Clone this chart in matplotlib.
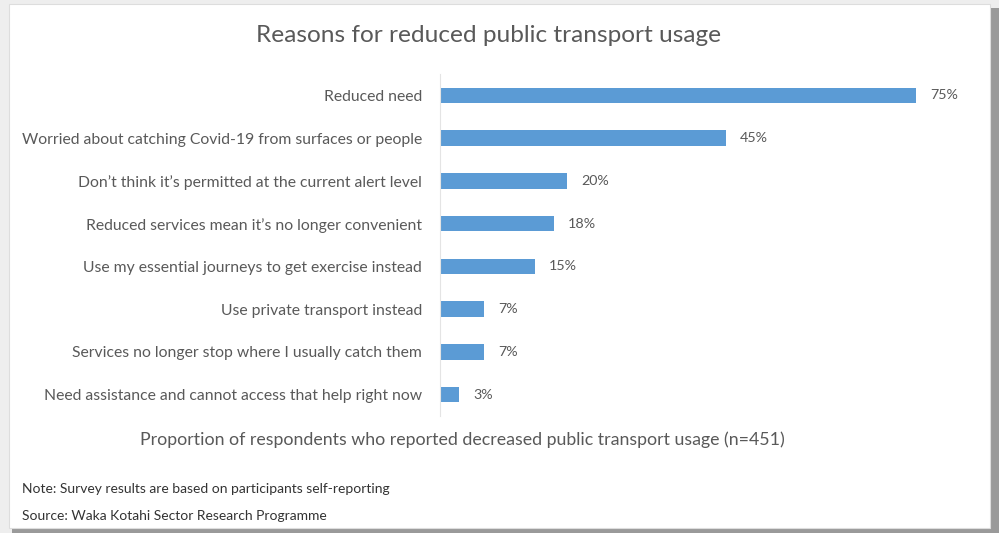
import matplotlib
matplotlib.use("Agg")
import matplotlib.pyplot as plt
import matplotlib.patches as mpatches

reasons = [
    "Reduced need",
    "Worried about catching Covid-19 from surfaces or people",
    "Don\u2019t think it\u2019s permitted at the current alert level",
    "Reduced services mean it\u2019s no longer convenient",
    "Use my essential journeys to get exercise instead",
    "Use private transport instead",
    "Services no longer stop where I usually catch them",
    "Need assistance and cannot access that help right now",
]
shares = [75, 45, 20, 18, 15, 7, 7, 3]

BLUE = "#5B9BD5"
GRAY = "#595959"
W, H = 999, 533

plt.rcParams["font.family"] = ["Lato", "DejaVu Sans"]

fig = plt.figure(figsize=(W / 100, H / 100), dpi=100)
fig.patch.set_facecolor("#eeeeee")


def px(x0, y0, x1, y1):
    """pixel box (top-left origin) -> figure fraction rect"""
    return [x0 / W, 1 - y1 / H, (x1 - x0) / W, (y1 - y0) / H]


# card with shadow
bg = fig.add_axes([0, 0, 1, 1])
bg.set_xlim(0, W); bg.set_ylim(H, 0); bg.axis("off")
bg.add_patch(mpatches.Rectangle((12, 8), 987, 525, facecolor="#9a9a9a", edgecolor="none"))
bg.add_patch(mpatches.Rectangle((9, 4), 981, 524, facecolor="white", edgecolor="#dddddd", lw=0.8))

# bar area: x from 440 (0%) ; 75% ends at ~916
ax = fig.add_axes(px(440, 74, 440 + 6.35 * 100, 416))
ax.set_facecolor("none")
y = list(range(len(reasons)))
ax.barh(y, shares, height=0.36, color=BLUE, edgecolor="none")
for yi, v in zip(y, shares):
    ax.text(v + 2.2, yi, f"{v}%", va="center", ha="left", fontsize=10.3, color=GRAY)
ax.set_xlim(0, 100)
ax.set_ylim(len(reasons) - 0.5, -0.5)
ax.set_yticks(y)
ax.set_yticklabels(reasons, fontsize=11.3, color=GRAY)
ax.tick_params(axis="y", length=0, pad=13)
ax.set_xticks([])
for s in ["top", "right", "bottom"]:
    ax.spines[s].set_visible(False)
ax.spines["left"].set_color("#e4e4e4")
ax.spines["left"].set_linewidth(0.8)

fig.text(489 / W, 1 - 35 / H, "Reasons for reduced public transport usage",
         ha="center", va="center", fontsize=17.6, color=GRAY)
fig.text(462 / W, 1 - 440 / H,
         "Proportion of respondents who reported decreased public transport usage (n=451)",
         ha="center", va="center", fontsize=12.8, color=GRAY)
fig.text(22 / W, 1 - 489 / H, "Note: Survey results are based on participants self-reporting",
         ha="left", va="center", fontsize=10, color="#333333")
fig.text(22 / W, 1 - 516 / H, "Source: Waka Kotahi Sector Research Programme",
         ha="left", va="center", fontsize=10, color="#333333")

fig.savefig("out.png", dpi=100, facecolor=fig.get_facecolor())
